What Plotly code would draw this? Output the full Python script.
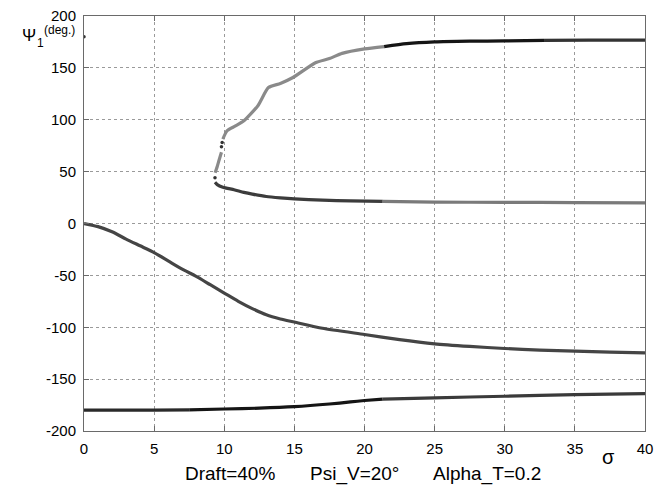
import plotly.graph_objects as go

# ---- data ----
A_x = [0, 1, 2, 3, 4, 5, 6, 7, 8, 9, 10, 11, 12, 13, 14, 15, 17, 20, 22.5, 25, 27.5, 30, 32.5, 35, 37.5, 40]
A_y = [0, -3, -8, -15, -21.5, -28, -36, -44, -51, -59, -67, -75, -82, -88, -92, -95, -101, -107, -112, -116, -118.5, -120.5, -122, -123, -124, -124.7]

B1_x = [0, 2.5, 5, 7.5]
B1_y = [-179.8, -179.8, -179.8, -179.7]
B2_x = [7.5, 10, 12.5, 15, 17.5, 19, 20, 21.3]
B2_y = [-179.7, -178.8, -178, -176.6, -174, -172, -170.6, -169.2]
B3_x = [21.3, 25, 30, 35, 40]
B3_y = [-169.2, -168, -166.5, -165, -164]

C1_x = [9.34, 9.5, 9.9, 10.7, 11.4, 12, 13, 14, 15, 17, 19, 21.3]
C1_y = [39.7, 37.5, 35, 32.5, 30, 28.3, 26, 24.7, 23.7, 22.5, 21.8, 21.3]
C2_x = [21.3, 25, 30, 35, 40]
C2_y = [21.3, 20.6, 20.4, 20.2, 19.8]

D1_x = [9.35, 9.5, 9.65, 9.8]
D1_y = [49, 55, 62, 68.6]
D2_x = [9.9, 10.2, 10.8, 11.4, 12.4, 13.15, 14, 14.9, 16.5, 17.5, 18.4, 20, 21.4]
D2_y = [81.4, 89.4, 94, 99, 113.5, 131, 135, 140.7, 155, 159, 164, 168.3, 170.5]
D3_x = [21.4, 23, 25, 27.5, 30, 32.8]
D3_y = [170.5, 173.3, 175, 175.7, 176, 176.5]
D4_x = [32.8, 36, 40]
D4_y = [176.5, 176.7, 176.8]

dots_x = [0, 9.34, 9.8, 9.85]
dots_y = [180, 44, 74, 78]

x_ticks = [0, 5, 10, 15, 20, 25, 30, 35, 40]
y_ticks = [-200, -150, -100, -50, 0, 50, 100, 150, 200]

FONT = "Liberation Sans, Arial, sans-serif"

segments = [
    (A_x, A_y, "#454545"),
    (B1_x, B1_y, "#2a2a2a"),
    (B2_x, B2_y, "#151515"),
    (B3_x, B3_y, "#3a3a3a"),
    (C1_x, C1_y, "#3c3c3c"),
    (C2_x, C2_y, "#7a7a7a"),
    (D1_x, D1_y, "#8a8a8a"),
    (D2_x, D2_y, "#8a8a8a"),
    (D3_x, D3_y, "#151515"),
    (D4_x, D4_y, "#333333"),
]

fig = go.Figure()
for xs, ys, c in segments:
    fig.add_trace(go.Scatter(x=xs, y=ys, mode="lines",
                             line=dict(color=c, width=3.2, shape="spline", smoothing=0.6),
                             showlegend=False, hoverinfo="skip"))
fig.add_trace(go.Scatter(x=dots_x, y=dots_y, mode="markers",
                         marker=dict(color="#333333", size=3.5),
                         showlegend=False, hoverinfo="skip"))

axis_common = dict(
    showgrid=True, gridcolor="#9a9a9a", griddash="dot", gridwidth=1,
    showline=True, linecolor="#6a6a6a", linewidth=1, mirror="ticks",
    ticks="inside", ticklen=5, tickcolor="#6a6a6a",
    zeroline=False, tickfont=dict(family=FONT, size=15, color="#000"),
    ticklabeloverflow="allow",
)

fig.update_xaxes(range=[0, 40], tickvals=x_ticks, ticktext=[str(v) for v in x_ticks],
                 ticklabelstandoff=4, **axis_common)
fig.update_yaxes(range=[-200, 200], tickvals=y_ticks, ticktext=[str(v) for v in y_ticks],
                 ticklabelstandoff=4, **axis_common)

L, R, T, B = 84, 653, 15, 431

def px_to_paper_x(px):
    return (px - L) / float(R - L)

def px_to_paper_y(py):
    return (B - py) / float(B - T)

ann = [
    dict(text="σ", x=px_to_paper_x(616), y=px_to_paper_y(457), xanchor="center", yanchor="middle",
         font=dict(family=FONT, size=20, color="#000")),
    dict(text="Draft=40%", x=px_to_paper_x(185), y=px_to_paper_y(474), xanchor="left", yanchor="middle",
         font=dict(family=FONT, size=19, color="#000")),
    dict(text="Psi_V=20°", x=px_to_paper_x(312), y=px_to_paper_y(474), xanchor="left", yanchor="middle",
         font=dict(family=FONT, size=19, color="#000")),
    dict(text="Alpha_T=0.2", x=px_to_paper_x(437), y=px_to_paper_y(474), xanchor="left", yanchor="middle",
         font=dict(family=FONT, size=19, color="#000")),
    dict(text="Ψ", x=px_to_paper_x(20.5), y=px_to_paper_y(35), xanchor="left", yanchor="middle",
         font=dict(family=FONT, size=17, color="#000")),
    dict(text="1", x=px_to_paper_x(35), y=px_to_paper_y(42.5), xanchor="left", yanchor="middle",
         font=dict(family=FONT, size=12, color="#000")),
    dict(text="(deg.)", x=px_to_paper_x(42), y=px_to_paper_y(29.5), xanchor="left", yanchor="middle",
         font=dict(family=FONT, size=12, color="#000")),
]
for a in ann:
    a.update(xref="paper", yref="paper", showarrow=False, borderpad=0)

fig.update_layout(
    width=660, height=488,
    margin=dict(l=L, r=660 - R, t=T, b=488 - B),
    paper_bgcolor="white", plot_bgcolor="white",
    annotations=ann,
)

fig.write_html(
    "out.html",
    config={"displayModeBar": False},
    post_script="document.body.style.margin='0';document.body.style.padding='0';"
                "document.documentElement.style.overflow='hidden';",
)
